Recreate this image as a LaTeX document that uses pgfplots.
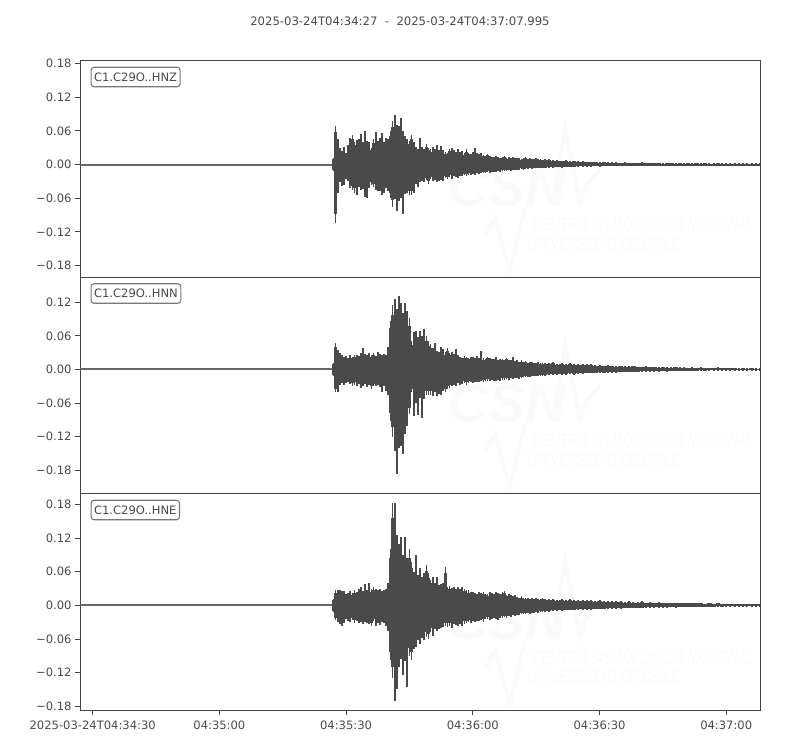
\documentclass[border=0pt]{standalone}
\usepackage{pgfplots}
\usepackage{pgfplotstable}
\usepackage{fontspec}
\setmainfont{DejaVu Sans}
\newfontfamily\wmfont{Liberation Sans}
\pgfplotsset{compat=1.18}
\definecolor{ink}{HTML}{4A4A4A}
\definecolor{frame}{HTML}{444444}
\definecolor{boxedge}{HTML}{777777}
\definecolor{wm}{HTML}{FAFAFA}
\definecolor{quiet}{HTML}{666666}
% ---------- Z
\pgfplotstableread{
t up lo
60.0 .012 -.012
60.5 .069 -.104
61.0 .045 -.050
61.5 .030 -.032
62.0 .024 -.038
62.5 .031 -.036
63.0 .020 -.025
63.5 .035 -.030
64.0 .048 -.042
64.5 .053 -.045
65.0 .040 -.050
65.5 .044 -.055
66.0 .045 -.040
66.5 .054 -.045
67.0 .040 -.043
67.5 .059 -.058
68.0 .042 -.059
68.5 .040 -.042
69.0 .030 -.036
69.5 .045 -.040
70.0 .058 -.045
70.5 .042 -.047
71.0 .047 -.048
71.5 .056 -.055
72.0 .040 -.050
72.5 .047 -.042
73.0 .045 -.048
73.5 .060 -.060
74.0 .078 -.075
74.5 .088 -.062
75.0 .070 -.082
75.5 .068 -.065
76.0 .082 -.060
76.5 .060 -.088
77.0 .050 -.052
77.5 .045 -.050
78.0 .042 -.055
78.5 .053 -.055
79.0 .040 -.050
79.5 .032 -.035
80.0 .028 -.040
80.5 .048 -.032
81.0 .032 -.030
81.5 .028 -.032
82.0 .036 -.028
82.5 .030 -.034
83.0 .027 -.026
83.5 .032 -.030
84.0 .028 -.027
84.5 .034 -.031
85.0 .026 -.029
85.5 .033 -.027
86.0 .025 -.030
86.5 .022 -.024
87.0 .021 -.026
87.5 .028 -.023
88.0 .030 -.025
88.5 .025 -.021
89.0 .023 -.022
89.5 .027 -.024
90.0 .022 -.020
90.5 .024 -.021
91.0 .020 -.019
91.5 .027 -.020
92.0 .021 -.018
92.5 .019 -.018
93.0 .022 -.017
93.5 .029 -.019
94.0 .020 -.016
94.5 .018 -.017
95.0 .021 -.015
95.5 .017 -.016
96.0 .016 -.015
96.5 .019 -.014
97.0 .015 -.015
97.5 .014 -.013
98.0 .013 -.014
98.5 .016 -.013
99.0 .014 -.012
99.5 .012 -.013
100.0 .013 -.011
100.5 .015 -.012
101.0 .012 -.011
101.5 .013 -.010
102.0 .011 -.011
102.5 .014 -.010
103.0 .012 -.009
103.5 .011 -.010
104.0 .012 -.009
104.5 .010 -.008
105.0 .011 -.009
105.5 .013 -.008
106.0 .010 -.008
106.5 .011 -.007
107.0 .009 -.008
107.5 .010 -.007
108.0 .012 -.007
108.5 .009 -.006
109.0 .010 -.007
109.5 .008 -.006
}\zA
\pgfplotstableread{
t up lo
110 .009 -.007
111 .010 -.006
112 .008 -.006
113 .008 -.005
114 .007 -.006
115 .008 -.005
116 .006 -.005
117 .007 -.005
118 .006 -.004
119 .006 -.004
120 .005 -.004
121 .005 -.004
122 .005 -.003
123 .004 -.004
124 .005 -.003
125 .004 -.003
126 .004 -.003
127 .004 -.003
128 .003 -.003
129 .004 -.002
130 .003 -.003
131 .003 -.002
132 .003 -.002
133 .004 -.002
134 .003 -.002
135 .003 -.002
136 .003 -.002
137 .003 -.002
138 .002 -.002
139 .003 -.002
140 .003 -.002
141 .002 -.002
142 .003 -.002
143 .002 -.002
144 .003 -.002
145 .002 -.002
146 .003 -.002
147 .002 -.002
148 .003 -.002
149 .002 -.001
150 .002 -.002
151 .003 -.001
152 .002 -.002
153 .002 -.001
154 .002 -.001
155 .002 -.001
156 .002 -.002
157 .002 -.001
158 .002 -.001
159 .002 -.001
160 .002 -.001
161 .002 -.001
}\zB
% ---------- N
\pgfplotstableread{
t up lo
60.0 .012 -.012
60.5 .048 -.041
61.0 .035 -.040
61.5 .029 -.028
62.0 .025 -.024
62.5 .022 -.027
63.0 .024 -.025
63.5 .021 -.023
64.0 .025 -.026
64.5 .023 -.029
65.0 .026 -.027
65.5 .025 -.030
66.0 .024 -.026
66.5 .029 -.033
67.0 .038 -.030
67.5 .027 -.026
68.0 .025 -.032
68.5 .029 -.028
69.0 .026 -.035
69.5 .030 -.030
70.0 .024 -.029
70.5 .031 -.027
71.0 .027 -.032
71.5 .025 -.041
72.0 .028 -.030
72.5 .026 -.038
73.0 .040 -.045
73.5 .087 -.092
74.0 .115 -.120
74.5 .125 -.145
75.0 .108 -.187
75.5 .131 -.140
76.0 .118 -.136
76.5 .100 -.151
77.0 .119 -.115
77.5 .105 -.100
78.0 .092 -.080
78.5 .051 -.040
79.0 .066 -.083
79.5 .069 -.060
80.0 .058 -.082
80.5 .069 -.050
81.0 .060 -.086
81.5 .072 -.052
82.0 .060 -.046
82.5 .050 -.046
83.0 .045 -.045
83.5 .038 -.048
84.0 .048 -.040
84.5 .033 -.047
85.0 .031 -.043
85.5 .040 -.045
86.0 .036 -.038
86.5 .031 -.040
87.0 .039 -.035
87.5 .030 -.033
88.0 .032 -.030
88.5 .028 -.027
89.0 .036 -.029
89.5 .025 -.025
90.0 .022 -.028
90.5 .020 -.026
91.0 .024 -.025
91.5 .023 -.027
92.0 .021 -.024
92.5 .023 -.023
93.0 .022 -.025
93.5 .020 -.022
94.0 .024 -.023
94.5 .021 -.022
95.0 .033 -.021
95.5 .020 -.023
96.0 .018 -.020
96.5 .023 -.021
97.0 .021 -.020
97.5 .018 -.019
98.0 .019 -.021
98.5 .023 -.020
99.0 .017 -.019
99.5 .018 -.021
100.0 .019 -.018
100.5 .016 -.018
101.0 .021 -.017
101.5 .016 -.019
102.0 .017 -.016
102.5 .022 -.017
103.0 .015 -.016
103.5 .016 -.015
104.0 .014 -.017
104.5 .016 -.015
105.0 .013 -.014
105.5 .015 -.013
106.0 .012 -.014
106.5 .013 -.013
107.0 .014 -.012
107.5 .011 -.012
108.0 .012 -.012
108.5 .013 -.011
109.0 .011 -.012
109.5 .012 -.011
}\nA
\pgfplotstableread{
t up lo
110 .012 -.011
111 .011 -.010
112 .013 -.010
113 .010 -.009
114 .011 -.010
115 .010 -.009
116 .012 -.008
117 .009 -.009
118 .010 -.008
119 .009 -.008
120 .009 -.007
121 .010 -.007
122 .008 -.007
123 .008 -.006
124 .007 -.007
125 .008 -.006
126 .007 -.006
127 .006 -.006
128 .007 -.005
129 .006 -.005
130 .006 -.005
131 .007 -.005
132 .005 -.005
133 .005 -.004
134 .006 -.004
135 .005 -.004
136 .005 -.004
137 .004 -.004
138 .005 -.003
139 .004 -.004
140 .004 -.003
141 .005 -.003
142 .004 -.003
143 .004 -.003
144 .003 -.003
145 .004 -.003
146 .003 -.003
147 .004 -.002
148 .003 -.003
149 .003 -.002
150 .003 -.002
151 .004 -.002
152 .003 -.002
153 .003 -.002
154 .003 -.002
155 .003 -.002
156 .002 -.002
157 .003 -.002
158 .002 -.002
159 .003 -.002
160 .002 -.002
161 .002 -.002
}\nB
% ---------- E
\pgfplotstableread{
t up lo
60.0 .012 -.012
60.5 .027 -.026
61.0 .028 -.030
61.5 .027 -.034
62.0 .026 -.036
62.5 .025 -.032
63.0 .020 -.025
63.5 .022 -.027
64.0 .026 -.030
64.5 .022 -.026
65.0 .027 -.031
65.5 .023 -.028
66.0 .029 -.032
66.5 .032 -.030
67.0 .026 -.033
67.5 .038 -.029
68.0 .028 -.031
68.5 .040 -.034
69.0 .029 -.036
69.5 .032 -.028
70.0 .030 -.037
70.5 .027 -.031
71.0 .030 -.035
71.5 .026 -.030
72.0 .028 -.032
72.5 .030 -.036
73.0 .040 -.045
73.5 .100 -.097
74.0 .183 -.130
74.5 .182 -.170
75.0 .125 -.150
75.5 .110 -.110
76.0 .122 -.095
76.5 .090 -.125
77.0 .122 -.100
77.5 .085 -.145
78.0 .100 -.090
78.5 .078 -.098
79.0 .060 -.077
79.5 .089 -.075
80.0 .055 -.062
80.5 .066 -.068
81.0 .050 -.058
81.5 .058 -.062
82.0 .072 -.056
82.5 .057 -.060
83.0 .046 -.048
83.5 .050 -.054
84.0 .040 -.043
84.5 .051 -.045
85.0 .036 -.042
85.5 .038 -.040
86.0 .040 -.039
86.5 .068 -.037
87.0 .033 -.038
87.5 .035 -.036
88.0 .031 -.040
88.5 .032 -.034
89.0 .030 -.035
89.5 .033 -.037
90.0 .029 -.034
90.5 .032 -.036
91.0 .030 -.033
91.5 .027 -.032
92.0 .027 -.030
92.5 .024 -.032
93.0 .024 -.028
93.5 .022 -.030
94.0 .020 -.027
94.5 .023 -.028
95.0 .022 -.026
95.5 .023 -.029
96.0 .021 -.025
96.5 .020 -.024
97.0 .023 -.026
97.5 .022 -.025
98.0 .021 -.023
98.5 .023 -.024
99.0 .022 -.026
99.5 .021 -.022
100.0 .023 -.023
100.5 .026 -.021
101.0 .019 -.022
101.5 .020 -.019
102.0 .018 -.020
102.5 .016 -.018
103.0 .018 -.019
103.5 .015 -.017
104.0 .014 -.018
104.5 .016 -.016
105.0 .013 -.015
105.5 .014 -.016
106.0 .013 -.014
106.5 .012 -.015
107.0 .014 -.013
107.5 .012 -.013
108.0 .013 -.012
108.5 .012 -.013
109.0 .011 -.012
109.5 .013 -.011
}\eA
\pgfplotstableread{
t up lo
110 .012 -.011
111 .011 -.011
112 .012 -.010
113 .010 -.010
114 .011 -.010
115 .010 -.009
116 .011 -.009
117 .009 -.009
118 .010 -.008
119 .009 -.008
120 .009 -.008
121 .010 -.008
122 .008 -.007
123 .009 -.007
124 .008 -.007
125 .007 -.006
126 .008 -.006
127 .007 -.006
128 .007 -.006
129 .006 -.005
130 .007 -.005
131 .006 -.005
132 .006 -.005
133 .007 -.005
134 .005 -.004
135 .006 -.004
136 .005 -.004
137 .006 -.004
138 .005 -.004
139 .005 -.004
140 .004 -.003
141 .005 -.004
142 .004 -.003
143 .005 -.003
144 .004 -.003
145 .004 -.003
146 .004 -.003
147 .004 -.003
148 .003 -.003
149 .004 -.003
150 .003 -.003
151 .004 -.002
152 .003 -.003
153 .003 -.002
154 .003 -.002
155 .003 -.002
156 .003 -.002
157 .003 -.002
158 .003 -.002
159 .003 -.002
160 .003 -.002
161 .003 -.002
}\eB
\pgfplotsset{
  panel/.style={
    scale only axis, width=680bp, height=217bp,
    xmin=0, xmax=160.995,
    axis line style={draw=frame, line width=1bp},
    tick style={draw=frame, line width=0.8bp},
    tick align=outside,
    major tick length=5bp,
    ticklabel style={text=ink, font=\fontsize{11.6}{13}\selectfont},
    xticklabel style={yshift=-2bp},
    xmajorgrids=false, ymajorgrids=false,
    clip=true,
    ytick pos=left, xtick pos=bottom,
  },
  wave/.style={ycomb, draw=ink, mark=none, line width=#1},
}
% each component: a solid core (the lower part of every sample) and thin tips
\newcommand{\trace}[2]{%
  \addplot[wave=2.3bp] table[x=t,y expr=0.85*\thisrow{up}] {#1};
  \addplot[wave=2.3bp] table[x=t,y expr=0.85*\thisrow{lo}] {#1};
  \addplot[wave=1.7bp] table[x=t,y=up] {#1};
  \addplot[wave=1.7bp] table[x=t,y=lo] {#1};
  \addplot[wave=4.4bp] table[x=t,y expr=0.85*\thisrow{up}] {#2};
  \addplot[wave=4.4bp] table[x=t,y expr=0.85*\thisrow{lo}] {#2};
  \addplot[wave=2bp] table[x=t,y=up] {#2};
  \addplot[wave=2bp] table[x=t,y=lo] {#2};
}
\newcommand{\watermark}[1]{%
  \begin{scope}[yshift=#1]
    \node[text=wm, font=\wmfont\bfseries\itshape\fontsize{56}{56}\selectfont, anchor=center] at (507bp,563bp) {CSN};
    \node[text=wm, font=\wmfont\itshape\fontsize{19}{19}\selectfont, xscale=0.686, anchor=center] at (643bp,527bp) {CENTRO SISMOLÓGICO NACIONAL};
    \node[text=wm, font=\wmfont\itshape\fontsize{19}{19}\selectfont, xscale=0.686, anchor=center] at (604bp,506bp) {UNIVERSIDAD DE CHILE};
    \draw[wm, line width=4bp, line join=miter] (553bp,545bp) -- (565bp,622bp) -- (580bp,547bp) -- (586bp,565bp) -- (600bp,580bp);
    \draw[wm, line width=4bp, line join=miter] (486bp,515bp) -- (495bp,532bp) -- (510bp,480bp) -- (525bp,541bp);
  \end{scope}}
\begin{document}
\begin{tikzpicture}[x=1bp,y=1bp]
\useasboundingbox (0,0) rectangle (800bp,750bp);
\watermark{0bp}
\watermark{-216bp}
\watermark{-433bp}
\node[text=ink, font=\fontsize{11.7}{13}\selectfont] at (400bp,728.5bp) {2025-03-24T04:34:27\ \ -\ \ 2025-03-24T04:37:07.995};
% Z
\begin{axis}[panel, at={(80bp,472.5bp)}, anchor=south west, ymin=-0.2014, ymax=0.1854,
  ytick={-.18,-.12,-.06,0,.06,.12,.18},
  yticklabels={−0.18,−0.12,−0.06,0.00,0.06,0.12,0.18},
  xtick=\empty]
\addplot[draw=quiet, line width=2bp, mark=none] coordinates {(0,0)(60,0)};
\trace{\zA}{\zB}
\end{axis}
% N
\begin{axis}[panel, at={(80bp,256.5bp)}, anchor=south west, height=216bp, ymin=-0.2211, ymax=0.1640,
  ytick={-.18,-.12,-.06,0,.06,.12},
  yticklabels={−0.18,−0.12,−0.06,0.00,0.06,0.12},
  xtick=\empty]
\addplot[draw=quiet, line width=2bp, mark=none] coordinates {(0,0)(60,0)};
\trace{\nA}{\nB}
\end{axis}
% E
\begin{axis}[panel, at={(80bp,39.5bp)}, anchor=south west, ymin=-0.1875, ymax=0.1996,
  ytick={-.18,-.12,-.06,0,.06,.12,.18},
  yticklabels={−0.18,−0.12,−0.06,0.00,0.06,0.12,0.18},
  xtick={3,33,63,93,123,153},
  xticklabels={2025-03-24T04:34:30,04:35:00,04:35:30,04:36:00,04:36:30,04:37:00}]
\addplot[draw=quiet, line width=2bp, mark=none] coordinates {(0,0)(60,0)};
\trace{\eA}{\eB}
\end{axis}
\foreach \yy/\lab in {673/C1.C29O..HNZ,456.5/C1.C29O..HNN,240/C1.C29O..HNE}
  \node[draw=boxedge, line width=1.1bp, rounded corners=3bp, fill=white, text=ink, inner xsep=3bp, inner ysep=0bp, minimum height=19.5bp, font=\fontsize{11.6}{13}\selectfont, anchor=west] at (90.5bp,\yy bp) {\lab};
\end{tikzpicture}
\end{document}
